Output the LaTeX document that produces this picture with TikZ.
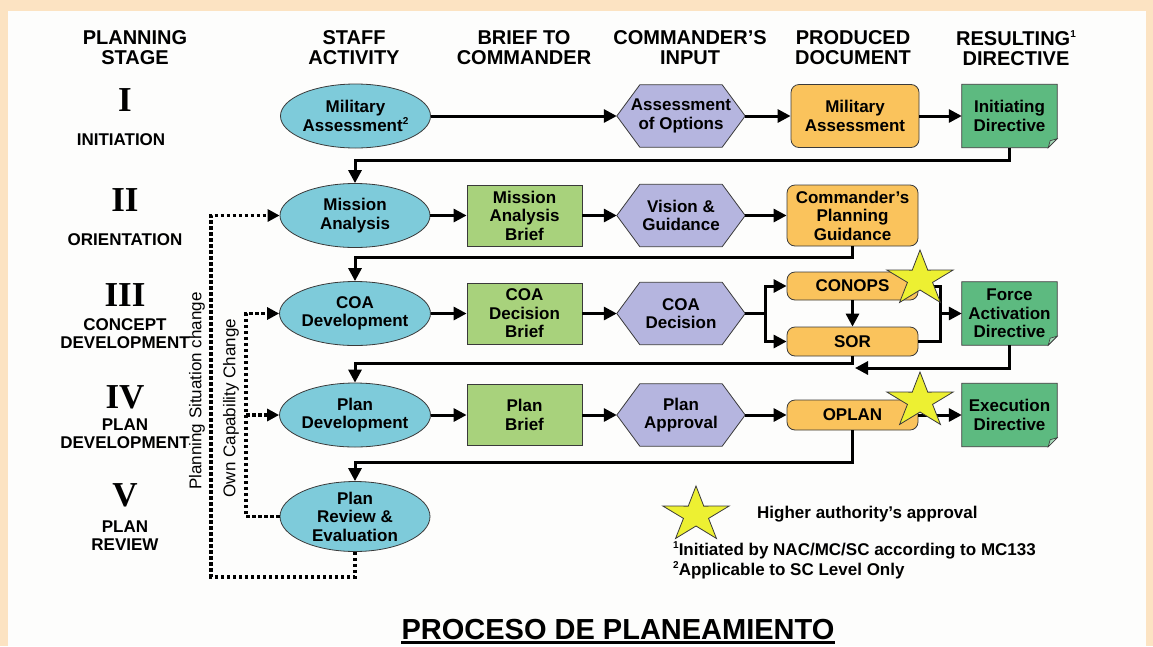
\documentclass[tikz,border=0pt]{standalone}
\usepackage{fontspec}
\setmainfont{Liberation Sans}
\newfontfamily\romanfont{Liberation Serif}
\usetikzlibrary{arrows.meta,shapes.geometric,backgrounds,calc}
\definecolor{peach}{HTML}{FCE3C2}
\definecolor{panel}{HTML}{FDFDFC}
\definecolor{ellfill}{HTML}{7ECBDA}
\definecolor{hexfill}{HTML}{B5B5DF}
\definecolor{brieffill}{HTML}{A8D27C}
\definecolor{docfill}{HTML}{FAC35C}
\definecolor{notefill}{HTML}{5DBA80}
\definecolor{starfill}{HTML}{EDF032}
\definecolor{edge}{HTML}{3A3A3A}
\newcommand\supmark[1]{\raisebox{0.42em}{\fontsize{10}{10}\selectfont #1}}
\tikzset{
  txt/.style={font=\fontsize{17}{18.5}\selectfont\bfseries, align=center, text=black},
  hdr/.style={font=\fontsize{20}{20}\selectfont\bfseries, align=center},
  stage/.style={font=\fontsize{17}{18}\selectfont\bfseries, align=center},
  roman/.style={font=\fontsize{35}{35}\selectfont\romanfont\bfseries},
  ell/.style={ellipse, draw=edge, line width=0.8pt, fill=ellfill, minimum width=150pt, minimum height=64pt, inner sep=0pt, txt},
  brief/.style={rectangle, draw=edge, line width=0.8pt, fill=brieffill, minimum width=115pt, minimum height=61pt, inner sep=0pt, txt},
  hexa/.style={rectangle, minimum width=128pt, minimum height=62pt, inner sep=0pt, txt},
  doc/.style={rectangle, rounded corners=8pt, draw=edge, line width=0.8pt, fill=docfill, minimum width=131pt, minimum height=61pt, inner sep=0pt, txt},
  note/.style={rectangle, minimum width=95pt, minimum height=63pt, inner sep=0pt, txt},
  hexsty/.style={draw=edge, line width=0.8pt, fill=hexfill},
  notesty/.style={draw=edge, line width=0.8pt, fill=notefill},
  starsty/.style={draw=edge, line width=0.8pt, fill=starfill},
  conn/.style={line width=3pt, draw=black},
  flow/.style={conn, -{Triangle[length=13pt,width=13pt]}},
  dots/.style={line width=3.5pt, dash pattern=on 3.5pt off 2.5pt, -{Triangle[length=12pt,width=12pt]}},
  foot/.style={font=\fontsize{17}{18}\selectfont\bfseries, anchor=west, inner sep=0pt},
}
\newcommand\approvalstar[2]{%
  \filldraw[starsty, shift={(#1,#2)}, xscale=1.2]
    (-90:29) -- (-54:11) -- (-18:29) -- (18:11) -- (54:29) -- (90:11)
    -- (126:29) -- (162:11) -- (198:29) -- (234:11) -- cycle;}
\begin{document}
\begin{tikzpicture}[x=1pt,y=-1pt]
\useasboundingbox (0,0) rectangle (1153,646);

% headers
\node[hdr] (hA) at (135,48) {PLANNING\\STAGE};
\node[hdr] (hB) at (354,48) {STAFF\\ACTIVITY};
\node[hdr] (hC) at (524,48) {BRIEF TO\\COMMANDER};
\node[hdr] (hD) at (690,48) {COMMANDER’S\\INPUT};
\node[hdr] (hE) at (853,48) {PRODUCED\\DOCUMENT};
\node[hdr] (hF) at (1016,48) {RESULTING\supmark{1}\\DIRECTIVE};

% stages
\node[roman] (r1) at (125,100) {I};
\node[stage] (s1) at (121,140) {INITIATION};
\node[roman] (r2) at (125,200) {II};
\node[stage] (s2) at (125,240) {ORIENTATION};
\node[roman] (r3) at (125,295) {III};
\node[stage] (s3) at (125,334) {CONCEPT\\DEVELOPMENT};
\node[roman] (r4) at (125,397) {IV};
\node[stage] (s4) at (125,434) {PLAN\\DEVELOPMENT};
\node[roman] (r5) at (125,495) {V};
\node[stage] (s5) at (125,536) {PLAN\\REVIEW};

% row I
\node[ell] (ma) at (355.5,116) {Military\\Assessment\supmark{2}};
\node[hexa] (h1) at (681,116) {Assessment\\of Options};
\node[doc, minimum width=128pt, minimum height=63pt] (d1) at (855,116) {Military\\Assessment};
\node[note] (n1) at (1009.5,116) {Initiating\\Directive};
% row II
\node[ell] (mi) at (355,215.5) {Mission\\Analysis};
\node[brief] (b2) at (524.5,215.5) {Mission\\Analysis\\Brief};
\node[hexa] (h2) at (681,215.5) {Vision \&\\Guidance};
\node[doc] (d2) at (852.5,215.5) {Commander’s\\Planning\\Guidance};
% row III
\node[ell] (coa) at (355,313.5) {COA\\Development};
\node[brief] (b3) at (524.5,313.5) {COA\\Decision\\Brief};
\node[hexa] (h3) at (681,313.5) {COA\\Decision};
\node[doc, minimum height=28pt] (conops) at (852.5,286) {CONOPS};
\node[doc, minimum height=29pt] (sor) at (852.5,341.5) {SOR};
\node[note] (n3) at (1009.5,313.5) {Force\\Activation\\Directive};
% row IV
\node[ell] (pd) at (355,415) {Plan\\Development};
\node[brief] (b4) at (524.5,415) {Plan\\Brief};
\node[hexa] (h4) at (681,415) {Plan\\Approval};
\node[doc, minimum height=30pt] (oplan) at (852.5,415) {OPLAN};
\node[note] (n4) at (1009.5,415) {Execution\\Directive};
% row V
\node[ell, minimum height=67pt] (pr) at (355,516.5) {Plan\\Review \&\\Evaluation};

% background, hexagons and notes behind text
\begin{scope}[on background layer]
\fill[peach] (0,0) rectangle (1153,646);
\fill[panel] (8,11) rectangle (1146,646);
\foreach \n in {h1,h2,h3,h4} {
  \filldraw[hexsty] (\n.west) -- ([xshift=23pt]\n.north west) -- ([xshift=-23pt]\n.north east)
    -- (\n.east) -- ([xshift=-23pt]\n.south east) -- ([xshift=23pt]\n.south west) -- cycle;
}
\foreach \n in {n1,n3,n4} {
  \filldraw[notesty] (\n.north west) -- (\n.north east) -- ([yshift=9pt]\n.south east)
    -- ([xshift=-9pt]\n.south east) -- (\n.south west) -- cycle;
  \filldraw[draw=edge, line width=0.6pt, fill=notefill!55!white] ([yshift=9pt]\n.south east)
    -- ([xshift=-9pt]\n.south east) -- ([xshift=-7pt,yshift=7pt]\n.south east) -- cycle;
}
\end{scope}

% connectors row I
\draw[flow] (ma.east) -- (h1.west);
\draw[flow] (h1.east) -- (d1.west);
\draw[flow] (d1.east) -- (n1.west);
\draw[flow] (n1.south) -- ++(0,12.5) -| (mi.north);
% row II
\draw[flow] (mi.east) -- (b2.west);
\draw[flow] (b2.east) -- (h2.west);
\draw[flow] (h2.east) -- (d2.west);
\draw[flow] (d2.south) -- ++(0,11) -| (coa.north);
% row III
\draw[flow] (coa.east) -- (b3.west);
\draw[flow] (b3.east) -- (h3.west);
\coordinate (split) at (765,313.5);
\coordinate (join) at (940,313.5);
\draw[conn] (h3.east) -- (split);
\draw[flow] (split) |- (conops.west);
\draw[flow] (split) |- (sor.west);
\draw[flow] (conops.south) -- (sor.north);
\draw[conn] (conops.east) -| (join);
\draw[conn] (sor.east) -| (join);
\draw[flow] (join) -- (n3.west);
\draw[flow] (sor.south) -- ++(0,7) -| (pd.north);
\coordinate (fadend) at (855,368);
\draw[flow] (n3.south) |- (fadend);
% row IV
\draw[flow] (pd.east) -- (b4.west);
\draw[flow] (b4.east) -- (h4.west);
\draw[flow] (h4.east) -- (oplan.west);
\draw[flow] (oplan.east) -- (n4.west);
\draw[flow] (oplan.south) -- ++(0,32) -| (pr.north);

% dotted feedback
\coordinate (psc) at (211,215.5);
\coordinate (occ) at (246,313.5);
\coordinate (occ4) at (246,415);
\draw[dots] (pr.south) -- ++(0,25) -| (psc) -- (mi.west);
\draw[dots] (pr.west) -| (occ) -- (coa.west);
\draw[dots] (occ4) -- (pd.west);
\node[rotate=90, font=\fontsize{17}{17}\selectfont, inner sep=0pt] (lab1) at (197,391) {Planning Situation change};
\node[rotate=90, font=\fontsize{17}{17}\selectfont, inner sep=0pt] (lab2) at (231,408) {Own Capability Change};

% stars
\approvalstar{920}{279}
\approvalstar{920}{401}
\approvalstar{696}{515}

% legend
\node[foot] (leg) at (757,514) {Higher authority’s approval};
\node[foot] (f1) at (673,550) {\supmark{1}Initiated by NAC/MC/SC according to MC133};
\node[foot] (f2) at (673,570) {\supmark{2}Applicable to SC Level Only};

% title
\node[font=\fontsize{29}{29}\selectfont\bfseries, anchor=base, inner sep=0pt] (title) at (618,639) {PROCESO DE PLANEAMIENTO};
\draw[line width=2.2pt] ([yshift=-3.5pt]title.base west) -- ([yshift=-3.5pt]title.base east);
\end{tikzpicture}
\end{document}
